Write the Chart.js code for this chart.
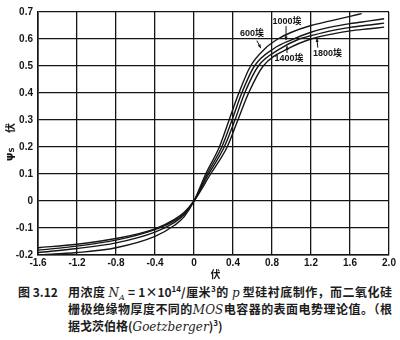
<!DOCTYPE html>
<html>
<head>
<meta charset="utf-8">
<script src="https://cdn.jsdelivr.net/npm/chart.js@4"></script>
<style>
  html, body { margin: 0; padding: 0; background: #fff; }
  #wrap { position: relative; width: 400px; height: 340px; overflow: hidden; background: #fff; }
  #plot { position: absolute; left: 0; top: 0; }
  .cap {
    position: absolute;
    font-family: "Noto Sans CJK SC", sans-serif;
    font-size: 12px;
    font-weight: 700;
    line-height: 16px;
    color: #1c1c1c;
    white-space: nowrap;
  }
  .just { text-align: justify; text-align-last: justify; white-space: normal; }
  .cap i { font-family: "DejaVu Serif", serif; font-style: italic; font-weight: 400; }
  .cap sup, .cap sub { font-size: 8px; line-height: 0; }
</style>
</head>
<body>
<div id="wrap">
  <canvas id="plot" width="400" height="282"></canvas>
  <div class="cap" style="left:18px; top:284px;">图&nbsp;3.12</div>
  <div class="cap just" style="left:68px; top:284px; width:324px;">用浓度 <i>N<sub>A</sub></i> = 1×10<sup>14</sup>/厘米<sup>3</sup>的 <i>p</i> 型硅衬底制作，而二氧化硅</div>
  <div class="cap just" style="left:68px; top:301px; width:324px;">栅极绝缘物厚度不同的<i>MOS</i>电容器的表面电势理论值。（根</div>
  <div class="cap" style="left:68px; top:318px;">据戈茨伯格(<i>Goetzberger</i>)<sup>3</sup>)</div>
</div>
<script>
// gate voltage (V) and surface potential psi_s (V) for each oxide thickness
const volts600 = [-1.6, -1.2, -0.8, -0.4, -0.2, -0.1, 0, 0.12, 0.26, 0.36, 0.46, 0.58, 0.73, 0.86, 1.0, 1.2, 1.4, 1.6, 1.72];
const psi600   = [-0.200, -0.191, -0.173, -0.131, -0.090, -0.058, 0, 0.10, 0.20, 0.30, 0.40, 0.50, 0.565, 0.600, 0.625, 0.650, 0.667, 0.684, 0.694];

const volts1000 = [-1.6, -1.2, -0.8, -0.4, -0.2, -0.1, 0, 0.135, 0.285, 0.39, 0.49, 0.62, 0.82, 1.0, 1.2, 1.4, 1.6, 1.8, 1.95];
const psi1000   = [-0.191, -0.176, -0.155, -0.115, -0.079, -0.050, 0, 0.10, 0.20, 0.30, 0.40, 0.50, 0.565, 0.597, 0.625, 0.644, 0.657, 0.667, 0.675];

const volts1400 = [-1.6, -1.2, -0.8, -0.4, -0.2, -0.1, 0, 0.15, 0.31, 0.42, 0.52, 0.66, 0.89, 1.08, 1.2, 1.4, 1.6, 1.8, 1.95];
const psi1400   = [-0.182, -0.167, -0.145, -0.106, -0.073, -0.046, 0, 0.10, 0.20, 0.30, 0.40, 0.50, 0.565, 0.600, 0.612, 0.630, 0.643, 0.652, 0.659];

const volts1800 = [-1.6, -1.2, -0.8, -0.4, -0.2, -0.1, 0, 0.17, 0.34, 0.45, 0.56, 0.71, 0.97, 1.2, 1.4, 1.6, 1.8, 1.95];
const psi1800   = [-0.173, -0.160, -0.139, -0.103, -0.068, -0.042, 0, 0.10, 0.20, 0.30, 0.40, 0.50, 0.565, 0.600, 0.617, 0.630, 0.638, 0.644];

const thicknessLabels = ['600埃', '1000埃', '1400埃', '1800埃'];

const voltTicks = [-1.6, -1.2, -0.8, -0.4, 0, 0.4, 0.8, 1.2, 1.6, 2.0];
const psiTicks = [-0.2, -0.1, 0, 0.1, 0.2, 0.3, 0.4, 0.5, 0.6, 0.7];

const INK = '#151515';
const tickFont = { family: '"Liberation Sans", Arial, sans-serif', size: 10, weight: 'bold' };

function fmt(v) {
  return Math.abs(v) < 1e-9 ? '0' : v.toFixed(1);
}

function curve(volts, psi) {
  return {
    data: volts.map((v, i) => ({ x: v, y: psi[i] })),
    borderColor: INK,
    borderWidth: 1.4,
    pointRadius: 0,
    fill: false,
    cubicInterpolationMode: 'monotone'
  };
}

// thickness tags with short arrows, placed in data units
const tagPlugin = {
  id: 'tags',
  afterDatasetsDraw(chart) {
    const { ctx, scales: { x, y } } = chart;
    const tags = [
      { text: thicknessLabels[0], at: [0.595, 0.619], from: [0.645, 0.594], to: [0.685, 0.566] },
      { text: thicknessLabels[1], at: [0.955, 0.664], from: [0.944, 0.648], to: [0.944, 0.596] },
      { text: thicknessLabels[2], at: [0.975, 0.528], from: [0.954, 0.548], to: [0.954, 0.574] },
      { text: thicknessLabels[3], at: [1.37, 0.545], from: [1.27, 0.568], to: [1.26, 0.603] }
    ];
    ctx.save();
    ctx.fillStyle = INK;
    ctx.strokeStyle = INK;
    ctx.lineWidth = 1;
    ctx.font = 'bold 9px "Liberation Sans", "Noto Sans CJK SC", sans-serif';
    ctx.textAlign = 'center';
    ctx.textBaseline = 'middle';
    tags.forEach(t => {
      ctx.fillText(t.text, x.getPixelForValue(t.at[0]), y.getPixelForValue(t.at[1]));
      const x0 = x.getPixelForValue(t.from[0]), y0 = y.getPixelForValue(t.from[1]);
      const x1 = x.getPixelForValue(t.to[0]), y1 = y.getPixelForValue(t.to[1]);
      ctx.beginPath();
      ctx.moveTo(x0, y0);
      ctx.lineTo(x1, y1);
      ctx.stroke();
      const a = Math.atan2(y1 - y0, x1 - x0);
      ctx.beginPath();
      ctx.moveTo(x1, y1);
      ctx.lineTo(x1 - 4 * Math.cos(a - 0.4), y1 - 4 * Math.sin(a - 0.4));
      ctx.lineTo(x1 - 4 * Math.cos(a + 0.4), y1 - 4 * Math.sin(a + 0.4));
      ctx.closePath();
      ctx.fill();
    });
    ctx.restore();
  }
};

// axis titles: "伏" under the x axis, rotated "ψS 伏" beside the y axis
const titlePlugin = {
  id: 'axisTitles',
  afterDraw(chart) {
    const { ctx, chartArea } = chart;
    ctx.save();
    ctx.fillStyle = INK;
    ctx.textAlign = 'center';
    ctx.textBaseline = 'middle';
    ctx.font = 'bold 10px "Noto Sans CJK SC", sans-serif';
    ctx.fillText('伏', (chartArea.left + chartArea.right) / 2 + 2, chartArea.bottom + 19);

    ctx.translate(10, 0);
    ctx.rotate(-Math.PI / 2);
    ctx.fillText('伏', -128, 0);
    ctx.font = 'bold 11px "DejaVu Sans", sans-serif';
    ctx.fillText('ψ', -157, 0);
    ctx.font = 'bold 7px "DejaVu Sans", sans-serif';
    ctx.fillText('S', -150, 2);
    ctx.restore();
  }
};

new Chart(document.getElementById('plot'), {
  type: 'line',
  data: {
    datasets: [
      curve(volts600, psi600),
      curve(volts1000, psi1000),
      curve(volts1400, psi1400),
      curve(volts1800, psi1800)
    ]
  },
  options: {
    responsive: false,
    animation: false,
    devicePixelRatio: 1,
    layout: { padding: { left: 0, top: 12, right: 11, bottom: 0 } },
    plugins: {
      legend: { display: false },
      tooltip: { enabled: false }
    },
    scales: {
      x: {
        type: 'linear',
        min: -1.6,
        max: 2.0,
        afterBuildTicks: s => { s.ticks = voltTicks.map(v => ({ value: v })); },
        afterFit: s => { s.height = 27; },
        ticks: {
          color: INK,
          font: tickFont,
          padding: 2,
          maxRotation: 0,
          autoSkip: false,
          callback: v => fmt(v)
        },
        grid: { color: INK, lineWidth: 1.3, drawTicks: false },
        border: { color: INK, width: 1.6 }
      },
      y: {
        type: 'linear',
        min: -0.2,
        max: 0.7,
        afterBuildTicks: s => { s.ticks = psiTicks.map(v => ({ value: v })); },
        afterFit: s => { s.width = 38; },
        ticks: {
          color: INK,
          font: tickFont,
          padding: 5,
          autoSkip: false,
          callback: v => fmt(v)
        },
        grid: { color: INK, lineWidth: 1.3, drawTicks: false },
        border: { color: INK, width: 1.6 }
      }
    }
  },
  plugins: [tagPlugin, titlePlugin]
});
</script>
</body>
</html>
